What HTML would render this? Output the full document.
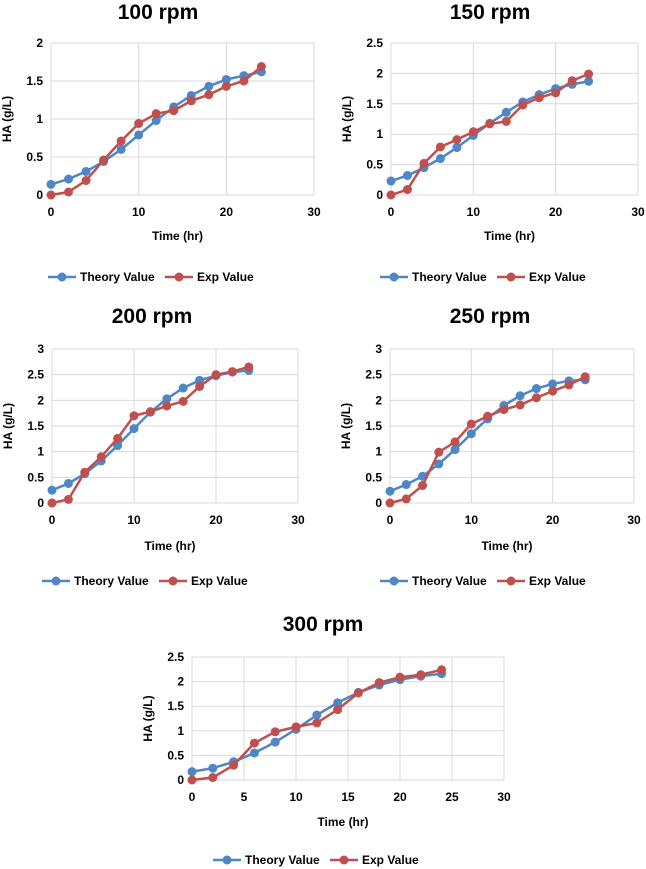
<!DOCTYPE html>
<html><head><meta charset="utf-8"><style>
body{margin:0;background:#fff;}
svg{display:block;font-family:"Liberation Sans",sans-serif;font-weight:bold;}
</style></head><body>
<svg id="s" width="646" height="869" viewBox="0 0 646 869"></svg>
<script>
const times=[0,2,4,6,8,10,12,14,16,18,20,22,24];
const titles=["100 rpm","150 rpm","200 rpm","250 rpm","300 rpm"];
const theory100=[0.14,0.21,0.31,0.44,0.6,0.79,0.98,1.16,1.31,1.43,1.52,1.57,1.62];
const exp100=[0,0.04,0.19,0.46,0.71,0.94,1.07,1.11,1.24,1.32,1.43,1.5,1.69];
const theory150=[0.23,0.32,0.45,0.6,0.78,0.98,1.18,1.36,1.53,1.65,1.75,1.82,1.87];
const exp150=[0,0.09,0.52,0.79,0.91,1.04,1.17,1.21,1.48,1.6,1.68,1.88,1.99];
const theory200=[0.25,0.38,0.57,0.82,1.12,1.45,1.77,2.03,2.24,2.39,2.48,2.55,2.58];
const exp200=[0,0.07,0.6,0.9,1.26,1.7,1.78,1.89,1.98,2.27,2.5,2.56,2.65];
const theory250=[0.23,0.36,0.52,0.76,1.04,1.35,1.64,1.9,2.09,2.23,2.32,2.38,2.4];
const exp250=[0,0.08,0.34,0.99,1.19,1.54,1.69,1.82,1.91,2.05,2.18,2.3,2.46];
const theory300=[0.17,0.24,0.37,0.55,0.77,1.03,1.32,1.57,1.78,1.93,2.04,2.11,2.16];
const exp300=[0,0.05,0.3,0.75,0.98,1.08,1.16,1.43,1.77,1.98,2.09,2.14,2.24];
const yTicks1=[0,0.5,1,1.5,2];
const yTicks2=[0,0.5,1,1.5,2,2.5];
const yTicks3=[0,0.5,1,1.5,2,2.5,3];
const xTicksA=[0,10,20,30];
const xTicksB=[0,5,10,15,20,25,30];
const seriesNames=["Theory Value","Exp Value"];
const colors=["#4f86c6","#c0504d"];

const svg=document.getElementById('s');
const NS="http://www.w3.org/2000/svg";
function mk(tag,attrs,parent){const e=document.createElementNS(NS,tag);for(const k in attrs)e.setAttribute(k,attrs[k]);(parent||svg).appendChild(e);return e;}

const panels=[
 {t:0,th:theory100,ex:exp100,yt:yTicks1,xt:xTicksA,x0:51,x1:314,y0:195,y1:43,ty:19,cx:158,lx:240,ly:281},
 {t:1,th:theory150,ex:exp150,yt:yTicks2,xt:xTicksA,x0:391,x1:638,y0:195,y1:43,ty:19,cx:490,lx:240,ly:281},
 {t:2,th:theory200,ex:exp200,yt:yTicks3,xt:xTicksA,x0:52,x1:298,y0:503,y1:349,ty:323,cx:152,lx:550,ly:585},
 {t:3,th:theory250,ex:exp250,yt:yTicks3,xt:xTicksA,x0:390,x1:634,y0:503,y1:349,ty:323,cx:490,lx:550,ly:585},
 {t:4,th:theory300,ex:exp300,yt:yTicks2,xt:xTicksB,x0:192,x1:504,y0:780,y1:657,ty:631,cx:323,lx:826,ly:864}
];
panels.forEach((p,i)=>{
 const g=mk('g',{});
 
 
 const ymax=p.yt[p.yt.length-1], xmax=p.xt[p.xt.length-1];
 const X=v=>p.x0+(p.x1-p.x0)*v/xmax;
 const Y=v=>p.y0-(p.y0-p.y1)*v/ymax;
 const tt=mk('text',{x:p.cx,y:p.ty,'text-anchor':'middle','font-size':21,fill:'#000'},g);tt.textContent=titles[p.t];
 
 p.yt.forEach(v=>{
  mk('line',{x1:p.x0,x2:p.x1,y1:Y(v),y2:Y(v),stroke:'#d9d9d9','stroke-width':1},g);
  const t=mk('text',{x:p.x0-8,y:Y(v)+4,'text-anchor':'end','font-size':12,fill:'#000'},g);t.textContent=v;
  
 });
 p.xt.forEach(v=>{
  mk('line',{x1:X(v),x2:X(v),y1:p.y1,y2:p.y0,stroke:'#d9d9d9','stroke-width':1},g);
  const t=mk('text',{x:X(v),y:p.y0+21,'text-anchor':'middle','font-size':12,fill:'#000'},g);t.textContent=v;
  
 });
 const xl=mk('text',{x:(p.x0+p.x1)/2-5,y:p.lx,'text-anchor':'middle','font-size':12,fill:'#000'},g);xl.textContent='Time (hr)';
 
 const ym=(p.y0+p.y1)/2, yx=p.x0-40;
 const yl=mk('text',{x:yx,y:ym,'text-anchor':'middle','font-size':12,fill:'#000',transform:`rotate(-90 ${yx} ${ym})`},g);yl.textContent='HA (g/L)';
 
 [p.th,p.ex].forEach((vals,si)=>{
  const pl=mk('polyline',{points:vals.map((v,k)=>X(times[k])+','+Y(v)).join(' '),fill:'none',stroke:colors[si],'stroke-width':2.5},g);
  
  vals.forEach((v,k)=>{
   const c=mk('circle',{cx:X(times[k]),cy:Y(v),r:4.5,fill:colors[si]},g);
   
  });
 });
 const lx0=p.cx-110;
 seriesNames.forEach((n,si)=>{
  const bx=lx0+si*117;
  const lg=mk('g',{},g);
  
  mk('line',{x1:bx,x2:bx+28,y1:p.ly-4,y2:p.ly-4,stroke:colors[si],'stroke-width':2.5},lg);
  mk('circle',{cx:bx+14,cy:p.ly-4,r:4.5,fill:colors[si]},lg);
  const t=mk('text',{x:bx+32,y:p.ly,'font-size':12,fill:'#000'},lg);t.textContent=n;
 });
});
</script>
</body></html>
